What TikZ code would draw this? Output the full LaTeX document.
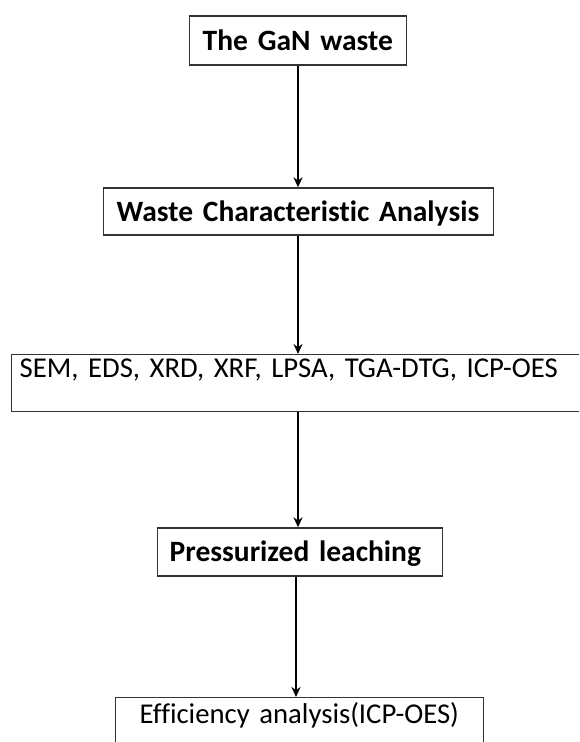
\documentclass[tikz,border=0pt]{standalone}
\usepackage{fontspec}
\setmainfont{Carlito}[Ligatures=NoCommon]
\usetikzlibrary{arrows.meta}
\frenchspacing
\begin{document}
\begin{tikzpicture}[x=1pt,y=-1pt,
  box/.style={draw=black!80, line width=1.4pt, inner ysep=0pt, minimum height=#1, anchor=west, align=left},
  boldtxt/.style={font=\fontsize{29.5}{34}\selectfont\bfseries, text height=19pt, text depth=0pt},
  regtxt/.style={font=\fontsize{28.7}{33}\selectfont, text height=19pt},
  arr/.style={draw=black, line width=2.6pt, -{Stealth[length=10pt,width=9pt]}}]
\clip (0,0) rectangle (579,742);
\fill[white] (0,0) rectangle (579,742);
\node[box=49pt, boldtxt, inner xsep=13pt, text width=191pt] (n1) at (189,40.5) {The GaN waste};
\node[box=47pt, boldtxt, inner xsep=13pt, text width=364pt] (n2) at (103,211.5) {Waste Characteristic Analysis};
\node[box=0pt, regtxt, anchor=north west, text depth=30pt, text width=574pt, inner xsep=8pt, inner ysep=4pt] (n3) at (11,354) {SEM, EDS, XRD, XRF, LPSA, TGA-DTG, ICP-OES};
\node[box=48pt, boldtxt, inner xsep=12pt, text width=261pt] (n4) at (157,552) {Pressurized leaching};
\node[box=0pt, regtxt, anchor=north west, text depth=40pt, text width=320pt, inner xsep=24pt, inner ysep=7pt] (n5) at (115,697) {Efficiency analysis(ICP-OES)};
\draw[arr] (n1.south -| 298,0) -- (n2.north -| 298,0);
\draw[arr] (n2.south -| 298,0) -- (n3.north -| 298,0);
\draw[arr] (n3.south -| 298,0) -- (n4.north -| 298,0);
\draw[arr] (n4.south -| 296,0) -- (n5.north -| 296,0);
\end{tikzpicture}
\end{document}
